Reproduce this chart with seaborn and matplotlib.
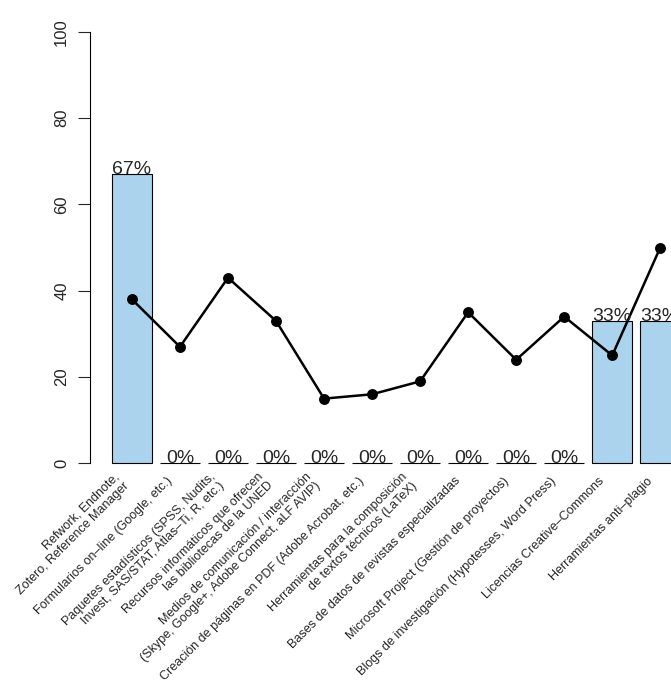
import numpy as np
import matplotlib
matplotlib.use("Agg")
import matplotlib.pyplot as plt
import seaborn as sns

# data
categorias = [
    "Refwork, Endnote,\nZotero, Reference Manager",
    "Formularios on–line (Google, etc.)",
    "Paquetes estadísticos (SPSS, Nudits,\nInvest, SAS/STAT, Atlas–Ti, R, etc.)",
    "Recursos informáticos que ofrecen\nlas bibliotecas de la UNED",
    "Medios de comunicación / interacción\n(Skype, Google+, Adobe Connect, aLF AVIP)",
    "Creación de páginas en PDF (Adobe Acrobat, etc.)",
    "Herramientas para la composición\nde textos técnicos (LaTeX)",
    "Bases de datos de revistas especializadas",
    "Microsoft Project (Gestión de proyectos)",
    "Blogs de investigación (Hypotesses, Word Press)",
    "Licencias Creative–Commons",
    "Herramientas anti–plagio",
]
porcentaje = [67, 0, 0, 0, 0, 0, 0, 0, 0, 0, 33, 33]
linea = [38, 27, 43, 33, 15, 16, 19, 35, 24, 34, 25, 50]
yticks = [0, 20, 40, 60, 80, 100]

sns.set_style("white")
plt.rcParams["font.family"] = ["Liberation Sans", "DejaVu Sans"]

fig = plt.figure(figsize=(6.71, 6.8), dpi=100)
ax = fig.add_axes([0.1341, 0.2932, 0.9136, 0.6856])

sns.barplot(x=categorias, y=porcentaje, color="#abd3ee", saturation=1,
            edgecolor="black", linewidth=0.8, width=1 / 1.2, ax=ax)
sns.pointplot(x=categorias, y=linea, color="black", markers="o",
              markersize=6.5, linewidth=1.8, ax=ax)

for i, v in enumerate(porcentaje):
    ax.text(i, v, f"{v}%", ha="center", va="baseline", fontsize=14)

for i, lab in enumerate(categorias):
    ax.text(i - 0.2, -3.7, lab, rotation=45, rotation_mode="anchor",
            ha="right", va="center", multialignment="right",
            fontsize=9, linespacing=1.1, clip_on=False)

ax.set_xlim(-0.8733, 11.89)
ax.set_ylim(-4, 104)
ax.set_xticks([])
ax.set_yticks(yticks)
ax.set_yticklabels([str(t) for t in yticks], rotation=90, va="center")
ax.tick_params(axis="y", direction="out", length=9, width=0.8,
               labelsize=12, pad=6, left=True)
for s in ["top", "right", "bottom"]:
    ax.spines[s].set_visible(False)
ax.spines["left"].set_bounds(0, 100)
ax.spines["left"].set_linewidth(0.8)
ax.spines["left"].set_color("black")
ax.set_xlabel("")
ax.set_ylabel("")

fig.savefig("out.png", dpi=100)
